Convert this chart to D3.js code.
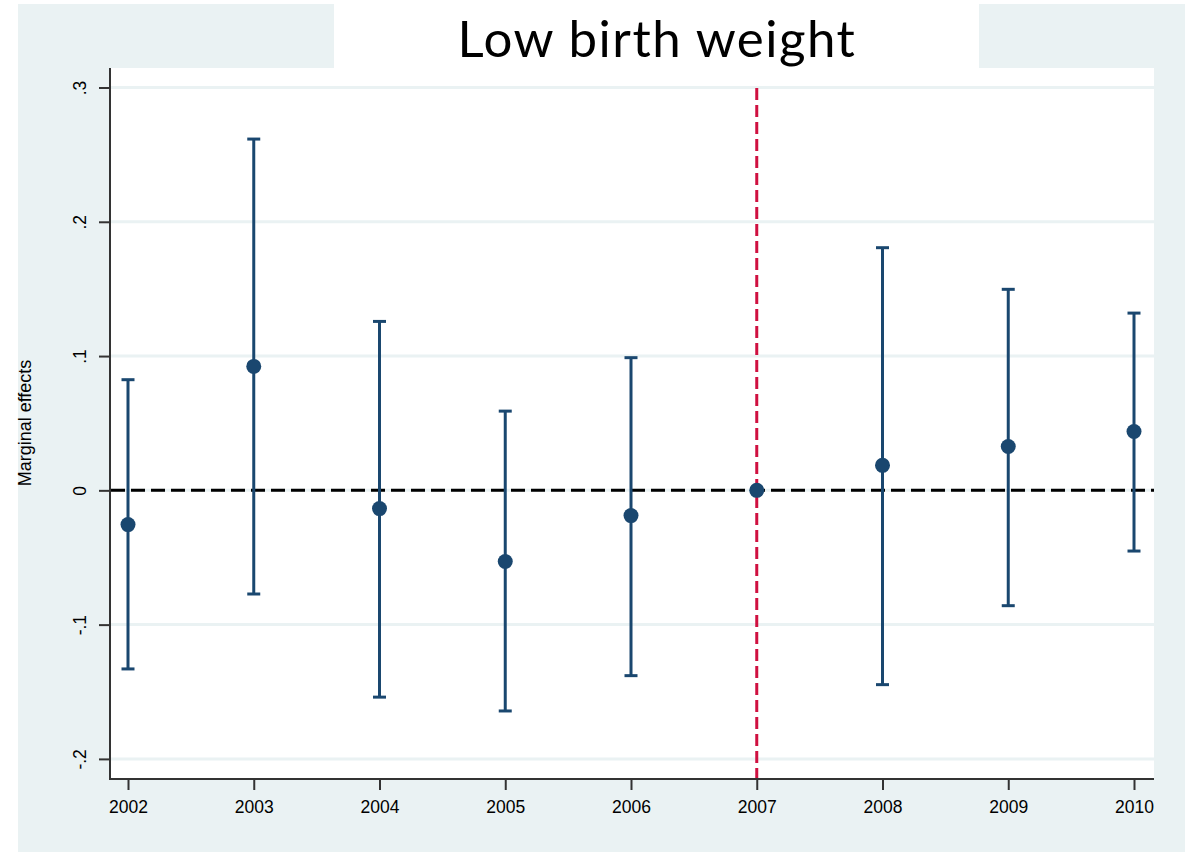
<!DOCTYPE html>
<html>
<head>
<meta charset="utf-8">
<script src="https://cdn.jsdelivr.net/npm/d3@7"></script>
<style>
  body { margin: 0; background: #fff; }
  svg { display: block; }
</style>
</head>
<body>
<script>
// event-study style plot: marginal effect per year with CI bars
var years = [2002, 2003, 2004, 2005, 2006, 2007, 2008, 2009, 2010];
var estimates = [-0.0255, 0.0923, -0.0136, -0.053, -0.0188, 0, 0.0186, 0.0326, 0.0438];
var ciLow = [-0.133, -0.0772, -0.154, -0.1643, -0.138, null, -0.1447, -0.0859, -0.0452];
var ciHigh = [0.0824, 0.2616, 0.1258, 0.059, 0.0988, null, 0.1807, 0.1497, 0.132];
var yTicks = [-0.2, -0.1, 0, 0.1, 0.2, 0.3];
var yTickLabels = ["-.2", "-.1", "0", ".1", ".2", ".3"];
var refYear = 2007;
var titleText = "Low birth weight";
var yTitle = "Marginal effects";

var w = 1196;
var h = 852;
var navy = "#1a476f";
var bg = "#eaf2f3";
var font = "'Liberation Sans', Arial, sans-serif";

var svg = d3.select("body")
  .append("svg")
  .attr("width", w)
  .attr("height", h);

// outer light panel
svg.append("rect")
  .attr("x", 18).attr("y", 4)
  .attr("width", 1185 - 18).attr("height", h - 4)
  .attr("fill", bg);

// white title box and plot region
svg.append("rect")
  .attr("x", 334).attr("y", 0)
  .attr("width", 979 - 334).attr("height", 69)
  .attr("fill", "#fff");
svg.append("rect")
  .attr("x", 110).attr("y", 68)
  .attr("width", 1154 - 110).attr("height", 779 - 68)
  .attr("fill", "#fff");

var scaleX = d3.scaleLinear()
  .domain([2002, 2010])
  .range([128, 1134]);

var scaleY = d3.scaleLinear()
  .domain([-0.2, 0.3])
  .range([758.9, 87.5]);

// gridlines
svg.selectAll("line.grid")
  .data(yTicks)
  .enter()
  .append("line")
  .attr("class", "grid")
  .attr("x1", 110).attr("x2", 1154)
  .attr("y1", function(d) { return scaleY(d); })
  .attr("y2", function(d) { return scaleY(d); })
  .attr("stroke", bg)
  .attr("stroke-width", 3);

// zero reference line
svg.append("line")
  .attr("x1", 111).attr("x2", 1154)
  .attr("y1", scaleY(0)).attr("y2", scaleY(0))
  .attr("stroke", "#000")
  .attr("stroke-width", 3)
  .attr("stroke-dasharray", "14,6");

// vertical reference line at policy year
svg.append("line")
  .attr("x1", scaleX(refYear)).attr("x2", scaleX(refYear))
  .attr("y1", 88).attr("y2", 779)
  .attr("stroke", "#cf1040")
  .attr("stroke-width", 3)
  .attr("stroke-dasharray", "12,5");

var idx = d3.range(years.length).filter(function(i) { return ciLow[i] !== null; });

// CI bars
svg.selectAll("line.ci")
  .data(idx)
  .enter()
  .append("line")
  .attr("class", "ci")
  .attr("x1", function(i) { return scaleX(years[i]); })
  .attr("x2", function(i) { return scaleX(years[i]); })
  .attr("y1", function(i) { return scaleY(ciLow[i]); })
  .attr("y2", function(i) { return scaleY(ciHigh[i]); })
  .attr("stroke", navy)
  .attr("stroke-width", 3);

// caps
[ciLow, ciHigh].forEach(function(arr) {
  svg.append("g").selectAll("line")
    .data(idx)
    .enter()
    .append("line")
    .attr("x1", function(i) { return scaleX(years[i]) - 6.5; })
    .attr("x2", function(i) { return scaleX(years[i]) + 6.5; })
    .attr("y1", function(i) { return scaleY(arr[i]); })
    .attr("y2", function(i) { return scaleY(arr[i]); })
    .attr("stroke", navy)
    .attr("stroke-width", 3);
});

// point estimates
svg.selectAll("circle")
  .data(estimates)
  .enter()
  .append("circle")
  .attr("cx", function(d, i) { return scaleX(years[i]); })
  .attr("cy", function(d) { return scaleY(d); })
  .attr("r", 7.5)
  .attr("fill", navy);

// axes
var xAxis = d3.axisBottom(scaleX)
  .tickValues(years)
  .tickFormat(d3.format("d"))
  .tickSizeInner(11)
  .tickSizeOuter(0);

var yAxis = d3.axisLeft(scaleY)
  .tickValues(yTicks)
  .tickFormat(function(d, i) { return yTickLabels[i]; })
  .tickSizeInner(11)
  .tickSizeOuter(0);

var gx = svg.append("g")
  .attr("transform", "translate(0,779)")
  .call(xAxis);
gx.select(".domain").attr("d", "M110,0H1154").attr("stroke", "#333").attr("stroke-width", 2);
gx.selectAll(".tick line").attr("stroke", "#333").attr("stroke-width", 2);
gx.selectAll("text")
  .attr("font-family", font)
  .attr("font-size", 17.5)
  .attr("fill", "#000")
  .attr("y", 34).attr("dy", null);

var gy = svg.append("g")
  .attr("transform", "translate(110,0)")
  .call(yAxis);
gy.select(".domain").attr("d", "M0,68V780").attr("stroke", "#333").attr("stroke-width", 2);
gy.selectAll(".tick line").attr("stroke", "#333").attr("stroke-width", 2);
gy.selectAll("text")
  .attr("font-family", font)
  .attr("font-size", 17.5)
  .attr("fill", "#000")
  .attr("x", null).attr("dy", null)
  .attr("text-anchor", "middle")
  .attr("transform", "translate(-24,0) rotate(-90)");

// y axis title
svg.append("text")
  .attr("transform", "translate(31,423) rotate(-90)")
  .attr("text-anchor", "middle")
  .attr("font-family", font)
  .attr("font-size", 18)
  .attr("fill", "#000")
  .text(yTitle);

// title
svg.append("text")
  .attr("x", 657)
  .attr("y", 57)
  .attr("text-anchor", "middle")
  .attr("font-family", "Lato, 'Open Sans', sans-serif")
  .attr("font-size", 51)
  .attr("letter-spacing", 1.5)
  .attr("fill", "#000")
  .text(titleText);
</script>
</body>
</html>
